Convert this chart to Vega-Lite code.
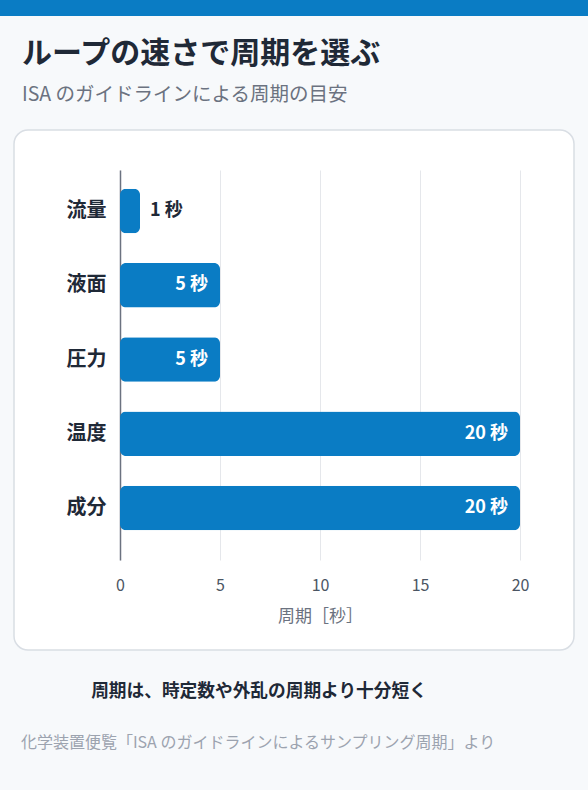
{
  "$schema": "https://vega.github.io/schema/vega-lite/v6.json",
  "width": 400,
  "height": 390,
  "autosize": {"type": "none"},
  "padding": {"left": 120, "top": 170, "right": 68, "bottom": 230},
  "background": "#ffffff",
  "config": {
    "font": "Noto Sans CJK JP",
    "view": {"stroke": null}
  },
  "layer": [
    {
      "data": {"values": [{}]},
      "layer": [
        {
          "mark": {"type": "rect", "filled": false, "stroke": "#f7f9fb", "strokeWidth": 300, "cornerRadius": 164},
          "encoding": {
            "x": {"datum": -12.8, "type": "quantitative", "scale": {"domain": [0, 20], "nice": false, "zero": false}, "axis": null},
            "x2": {"datum": 30.2},
            "y": {"datum": 1.48718, "type": "quantitative", "scale": {"domain": [0, 1], "nice": false, "zero": false}, "axis": null},
            "y2": {"datum": -0.61538}
          }
        },
        {
          "mark": {"type": "rect", "filled": false, "stroke": "#d9dee4", "strokeWidth": 1.5, "cornerRadius": 14},
          "encoding": {
            "x": {"datum": -5.3, "type": "quantitative", "scale": {"domain": [0, 20], "nice": false, "zero": false}, "axis": null},
            "x2": {"datum": 22.7},
            "y": {"datum": 1.10256, "type": "quantitative", "scale": {"domain": [0, 1], "nice": false, "zero": false}, "axis": null},
            "y2": {"datum": -0.23077}
          }
        },
        {
          "mark": {"type": "rect", "color": "#0a7cc4"},
          "encoding": {
            "x": {"datum": -7, "type": "quantitative", "scale": {"domain": [0, 20], "nice": false, "zero": false}, "axis": null},
            "x2": {"datum": 24},
            "y": {"datum": 1.51282, "type": "quantitative", "scale": {"domain": [0, 1], "nice": false, "zero": false}, "axis": null},
            "y2": {"datum": 1.39487}
          }
        },
        {
          "mark": {"type": "text", "text": "ループの速さで周期を選ぶ", "align": "left", "baseline": "middle", "fontSize": 30, "fontWeight": "bold", "color": "#1f2937"},
          "encoding": {
            "x": {"datum": -4.9, "type": "quantitative", "scale": {"domain": [0, 20], "nice": false, "zero": false}, "axis": null},
            "y": {"datum": 1.2974, "type": "quantitative", "scale": {"domain": [0, 1], "nice": false, "zero": false}, "axis": null}
          }
        },
        {
          "mark": {"type": "text", "text": "ISA のガイドラインによる周期の目安", "align": "left", "baseline": "middle", "fontSize": 19.5, "color": "#6b7280"},
          "encoding": {
            "x": {"datum": -4.9, "type": "quantitative", "scale": {"domain": [0, 20], "nice": false, "zero": false}, "axis": null},
            "y": {"datum": 1.1923, "type": "quantitative", "scale": {"domain": [0, 1], "nice": false, "zero": false}, "axis": null}
          }
        },
        {
          "mark": {"type": "text", "text": "周期は、時定数や外乱の周期より十分短く", "align": "center", "baseline": "middle", "fontSize": 17.7, "fontWeight": "bold", "color": "#1f2937"},
          "encoding": {
            "x": {"datum": 6.95, "type": "quantitative", "scale": {"domain": [0, 20], "nice": false, "zero": false}, "axis": null},
            "y": {"datum": -0.33846, "type": "quantitative", "scale": {"domain": [0, 1], "nice": false, "zero": false}, "axis": null}
          }
        },
        {
          "mark": {"type": "text", "text": "化学装置便覧「ISA のガイドラインによるサンプリング周期」より", "align": "center", "baseline": "middle", "fontSize": 16, "color": "#9ca3af"},
          "encoding": {
            "x": {"datum": 6.9, "type": "quantitative", "scale": {"domain": [0, 20], "nice": false, "zero": false}, "axis": null},
            "y": {"datum": -0.46923, "type": "quantitative", "scale": {"domain": [0, 1], "nice": false, "zero": false}, "axis": null}
          }
        }
      ]
    },
    {
      "data": {
        "values": [
          {"loop": "流量", "period": 1, "label": "1 秒"},
          {"loop": "液面", "period": 5, "label": "5 秒"},
          {"loop": "圧力", "period": 5, "label": "5 秒"},
          {"loop": "温度", "period": 20, "label": "20 秒"},
          {"loop": "成分", "period": 20, "label": "20 秒"}
        ]
      },
      "encoding": {
        "y": {
          "field": "loop",
          "type": "nominal",
          "sort": null,
          "scale": {"paddingInner": 0.4, "paddingOuter": 0.326, "align": 0.388},
          "axis": {
            "orient": "left",
            "title": null,
            "domain": true,
            "domainColor": "#6b7280",
            "domainWidth": 1.5,
            "ticks": false,
            "grid": false,
            "labelFontSize": 20,
            "labelFontWeight": "bold",
            "labelColor": "#1f2937",
            "labelPadding": 14
          }
        },
        "x": {
          "field": "period",
          "type": "quantitative",
          "scale": {"domain": [0, 20], "nice": false, "zero": false},
          "axis": {
            "orient": "bottom",
            "values": [0, 5, 10, 15, 20],
            "labelFlush": false,
            "title": "周期［秒］",
            "titleFontSize": 17,
            "titleFontWeight": "normal",
            "titleColor": "#6b7280",
            "titlePadding": 15,
            "domain": false,
            "ticks": false,
            "grid": true,
            "gridColor": "#e5e7eb",
            "gridWidth": 1,
            "labelFontSize": 16,
            "labelColor": "#4b5563",
            "labelPadding": 17
          }
        }
      },
      "layer": [
        {"mark": {"type": "bar", "color": "#0a7cc4", "cornerRadius": 6}},
        {
          "transform": [{"filter": "datum.period >= 3"}],
          "mark": {"type": "text", "align": "right", "baseline": "middle", "dx": -12, "fontSize": 18, "fontWeight": "bold", "color": "#ffffff"},
          "encoding": {"text": {"field": "label"}}
        },
        {
          "transform": [{"filter": "datum.period < 3"}],
          "mark": {"type": "text", "align": "left", "baseline": "middle", "dx": 10, "fontSize": 18, "fontWeight": "bold", "color": "#1f2937"},
          "encoding": {"text": {"field": "label"}}
        }
      ]
    }
  ],
  "resolve": {"scale": {"x": "independent", "y": "independent"}, "axis": {"x": "independent", "y": "independent"}}
}
